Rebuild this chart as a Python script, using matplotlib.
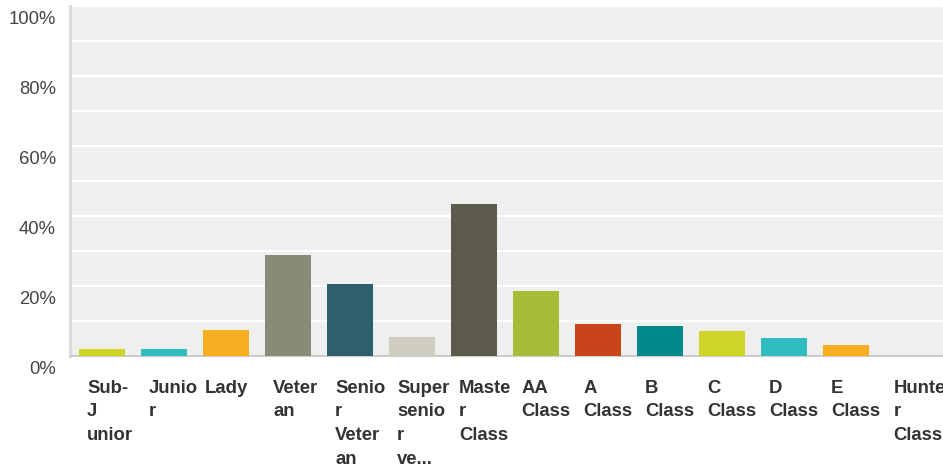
import numpy as np
import matplotlib
matplotlib.use("Agg")
import matplotlib.pyplot as plt
from matplotlib.transforms import ScaledTranslation

# categories as shown (wrapped the way the reference wraps them)
labels = ["Sub-\nJ\nunior", "Junio\nr", "Lady", "Veter\nan", "Senio\nr\nVeter\nan",
          "Super\nsenio\nr\nve...", "Maste\nr\nClass", "AA\nClass", "A\nClass",
          "B\nClass", "C\nClass", "D\nClass", "E\nClass", "Hunte\nr\nClass"]
values = [2.0, 2.0, 7.4, 28.9, 20.6, 5.4, 43.4, 18.6, 9.1, 8.6, 7.1, 5.1, 3.1, 0.0]
colors = ["#d0d52b", "#31bcbf", "#f7ae21", "#8a8a78", "#2e5f6d", "#cfcdbf", "#5c5a4a",
          "#a9bc39", "#c8451b", "#00898a", "#d0d52b", "#31bcbf", "#f7ae21", "#8a8a78"]
yticks = [0, 20, 40, 60, 80, 100]

plt.rcParams["font.family"] = ["Liberation Sans", "DejaVu Sans"]
DPI = 100
fig = plt.figure(figsize=(9.43, 4.72), dpi=DPI)
W, H = 943, 472
ax = fig.add_axes([70 / W, (H - 356) / H, (W - 70) / W, 350 / H])
ax.set_facecolor("#efefef")

x = np.arange(len(labels))
ax.bar(x, values, width=0.742, color=colors, zorder=3)
ax.set_xlim(-0.516, 13.56)
ax.set_ylim(0, 100)

# white gridlines every 10 %, labels every 20 %
ax.set_yticks(yticks)
ax.set_yticks(np.arange(10, 100, 20), minor=True)
ax.set_yticklabels([f"{t}%" for t in yticks], fontsize=13.3, color="#444")
ax.grid(axis="y", which="both", color="white", lw=1.6, zorder=1)
ax.tick_params(axis="y", which="both", length=0, pad=10)
off = ScaledTranslation(0, -11 / DPI, fig.dpi_scale_trans)
for t in ax.get_yticklabels():
    t.set_transform(t.get_transform() + off)
ax.set_xticks([])

for s in ("top", "right"):
    ax.spines[s].set_visible(False)
ax.spines["left"].set_color("#dcdcdc")
ax.spines["left"].set_linewidth(2.2)
ax.spines["bottom"].set_color("#cccccc")
ax.spines["bottom"].set_linewidth(1.5)

for i, lab in enumerate(labels):
    single = "\n" not in lab
    ax.annotate(lab, xy=(i, 0), xycoords=("data", "axes fraction"),
                xytext=(0 if single else -15 * 0.72, -24 * 0.72),
                textcoords="offset points", ha="center" if single else "left",
                va="top", fontsize=13.3, fontweight="bold", color="#333",
                linespacing=1.5, annotation_clip=False)

fig.savefig("out.png", dpi=DPI)
